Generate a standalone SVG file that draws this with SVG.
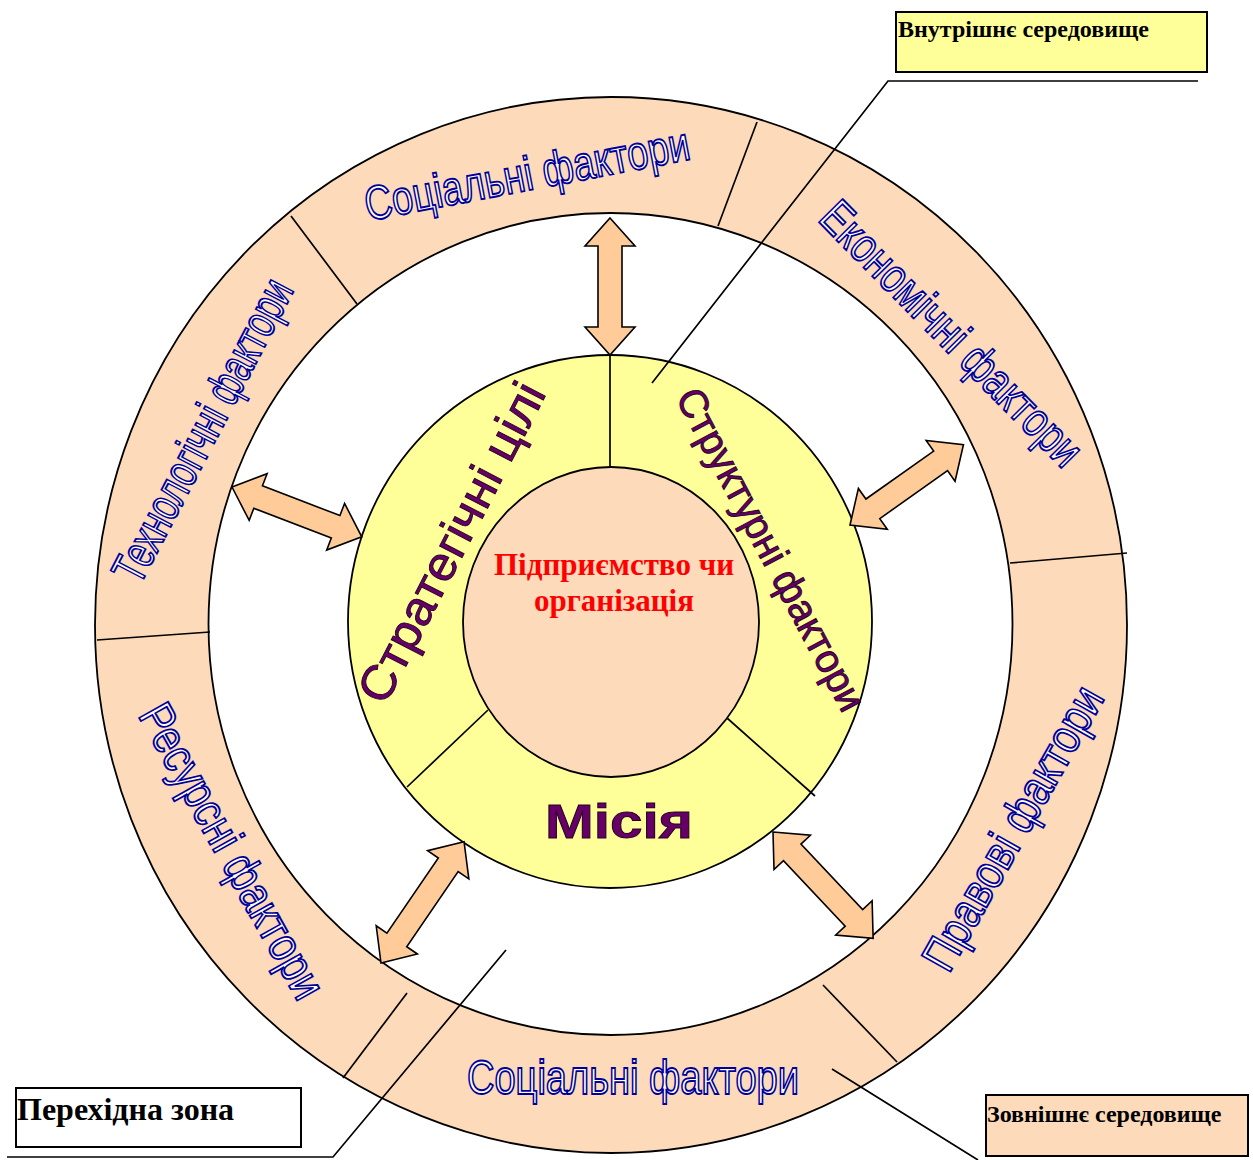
<svg xmlns="http://www.w3.org/2000/svg" width="1253" height="1160" viewBox="0 0 1253 1160">
<style>
  .edge{stroke:#000;stroke-width:1.7;fill:none}
  .ring{fill:#FDDBBA;stroke:#000;stroke-width:1.8}
  .hole{fill:#fff;stroke:#000;stroke-width:1.8}
  .band{fill:#FFFF99;stroke:#000;stroke-width:1.8}
  .factor{font-family:"Liberation Sans",Arial,sans-serif;font-size:48px;fill:#fff;stroke:#000099;stroke-width:1.9;text-anchor:middle}
  .core{font-family:"Liberation Sans",Arial,sans-serif;fill:#660066;stroke:#220022;stroke-width:0.9;text-anchor:middle}
  .arrow{fill:#FFCC99;stroke:#000;stroke-width:1.6;stroke-linejoin:miter}
  .lbl{font-family:"Liberation Serif","Times New Roman",serif;font-weight:bold;fill:#000}
  .org{fill:#FF0000;text-anchor:middle}
  .box{stroke:#000;stroke-width:2}
</style>

<rect width="1253" height="1160" fill="#fff"/>

<!-- external environment ring -->
<g id="environment-ring">
  <ellipse class="ring" cx="611" cy="625" rx="516" ry="528"/>
  <ellipse class="hole" cx="610.5" cy="624" rx="402" ry="411"/>
  <line class="edge" x1="291" y1="216" x2="357" y2="304"/>
  <line class="edge" x1="718" y1="226" x2="757" y2="122"/>
  <line class="edge" x1="1010" y1="563" x2="1127" y2="553"/>
  <line class="edge" x1="97" y1="640" x2="210" y2="632"/>
  <line class="edge" x1="407" y1="993" x2="343" y2="1078"/>
  <line class="edge" x1="823" y1="985" x2="897" y2="1062"/>
</g>

<g id="factor-social-top">
  <text class="factor" transform="translate(530,190) rotate(-10.8)" textLength="330" lengthAdjust="spacingAndGlyphs">Соціальні фактори</text>
</g>
<g id="factor-economic">
  <text class="factor" transform="translate(940,345) rotate(45.4)" textLength="351" lengthAdjust="spacingAndGlyphs">Економічні фактори</text>
</g>
<g id="factor-legal">
  <text class="factor" transform="translate(1027,836) rotate(-60.5)" textLength="318" lengthAdjust="spacingAndGlyphs">Правові фактори</text>
</g>
<g id="factor-social-bottom">
  <text class="factor" transform="translate(633,1094)" textLength="332" lengthAdjust="spacingAndGlyphs">Соціальні фактори</text>
</g>
<g id="factor-resources">
  <text class="factor" transform="translate(218,859) rotate(60.8)" textLength="330" lengthAdjust="spacingAndGlyphs">Ресурсні фактори</text>
</g>
<g id="factor-technology">
  <text class="factor" transform="translate(217,438) rotate(-62.4)" textLength="335" lengthAdjust="spacingAndGlyphs">Технологічні фактори</text>
</g>

<!-- internal environment band -->
<g id="internal-band">
  <ellipse class="band" cx="610" cy="621.5" rx="262" ry="266.5"/>
  <line class="edge" x1="610" y1="355" x2="610" y2="467"/>
  <line class="edge" x1="488" y1="710" x2="407" y2="787"/>
  <line class="edge" x1="727" y1="718" x2="815" y2="796"/>
</g>
<g id="strategic-goals">
  <text class="core" font-size="48" transform="translate(466,550) rotate(-62.7)" textLength="353" lengthAdjust="spacingAndGlyphs">Стратегічні цілі</text>
</g>
<g id="structural-factors">
  <text class="core" font-size="40" transform="translate(759,556) rotate(62.1)" textLength="359" lengthAdjust="spacingAndGlyphs">Структурні фактори</text>
</g>
<g id="mission">
  <text class="core" font-size="49" font-weight="bold" x="619" y="838" textLength="148" lengthAdjust="spacingAndGlyphs">Місія</text>
</g>

<!-- the organisation itself -->
<g id="organisation">
  <ellipse class="ring" cx="611" cy="622" rx="148" ry="155"/>
  <text class="lbl org" font-size="31" x="614" y="575">Підприємство чи</text>
  <text class="lbl org" font-size="31" x="614" y="611">організація</text>
</g>

<!-- callout boxes -->
<g id="callout-internal">
  <rect class="box" x="896" y="12" width="311" height="60" fill="#FFFF99"/>
  <text class="lbl" font-size="24" x="898" y="37">Внутрішнє середовище</text>
</g>
<g id="callout-transition">
  <rect class="box" x="16" y="1088" width="285" height="59" fill="#fff"/>
  <text class="lbl" font-size="32" x="17" y="1120">Перехідна зона</text>
</g>
<g id="callout-external">
  <rect class="box" x="986" y="1095" width="262" height="61" fill="#FDDBBA"/>
  <text class="lbl" font-size="24" x="987" y="1122">Зовнішнє середовище</text>
</g>

<!-- connectors: two-way interaction arrows and callout leaders -->
<g id="connectors">
  <polygon class="arrow" transform="translate(610,218) rotate(90)" points="0,0 28,-25 28,-12 109,-12 109,-25 137,0 109,25 109,12 28,12 28,25"/>
  <polygon class="arrow" transform="translate(232,487) rotate(21)" points="0,0 28,-25 28,-12 111,-12 111,-25 139,0 111,25 111,12 28,12 28,25"/>
  <polygon class="arrow" transform="translate(850,525) rotate(-35.3)" points="0,0 28,-25 28,-12 111,-12 111,-25 139,0 111,25 111,12 28,12 28,25"/>
  <polygon class="arrow" transform="translate(381,963) rotate(-55.6)" points="0,0 28,-25 28,-12 119,-12 119,-25 147,0 119,25 119,12 28,12 28,25"/>
  <polygon class="arrow" transform="translate(773,832) rotate(46.7)" points="0,0 28,-25 28,-12 118,-12 118,-25 146,0 118,25 118,12 28,12 28,25"/>
  <polyline class="edge" points="1198,81 888,81 652,383"/>
  <polyline class="edge" points="7,1157 333,1157 506,950"/>
  <line class="edge" x1="832" y1="1069" x2="978" y2="1160"/>
</g>
</svg>
